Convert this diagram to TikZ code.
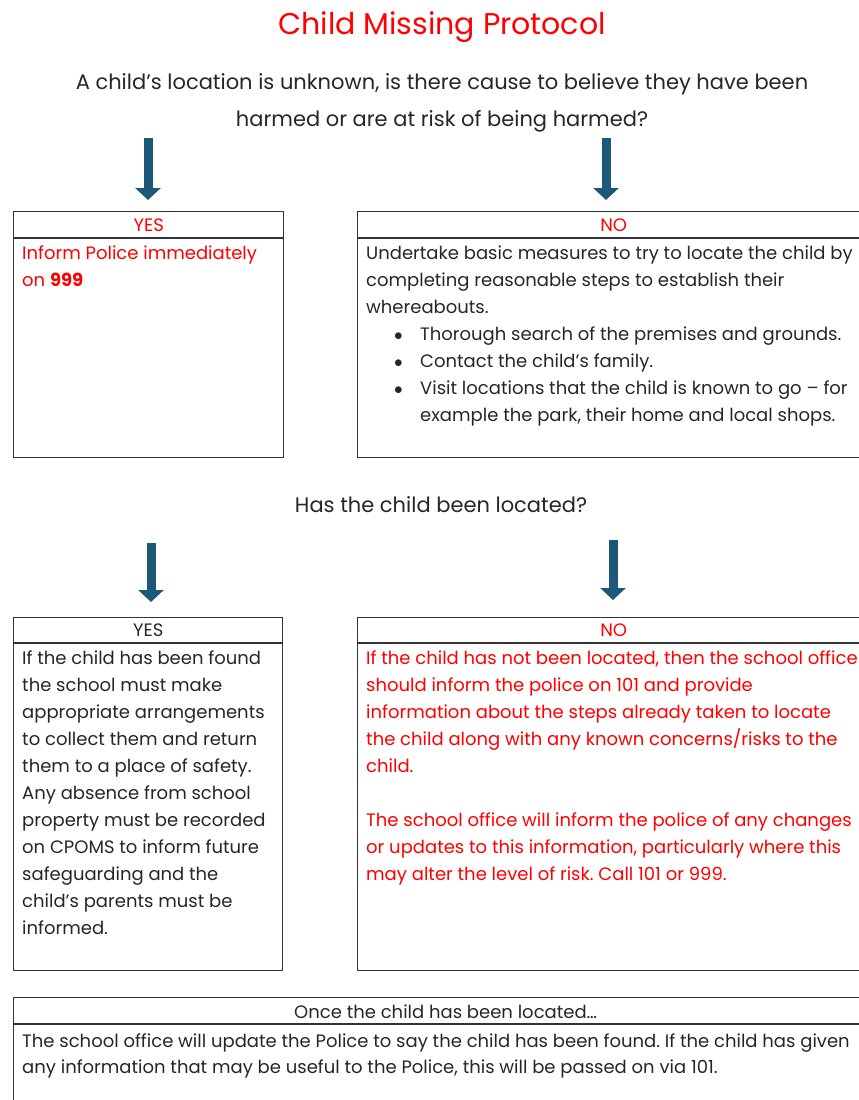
\documentclass[tikz,border=0pt]{standalone}
\usepackage{fontspec}
\setmainfont{Poppins}
\usepackage{tikz}
\usetikzlibrary{arrows.meta}
\frenchspacing

\definecolor{alertred}{HTML}{FF0000}
\definecolor{inktext}{HTML}{262626}
\definecolor{rulegray}{HTML}{333333}
\definecolor{arrowblue}{HTML}{1C5878}

\newcommand{\listdot}{\makebox[26pt][l]{\raisebox{0.3pt}{\fontsize{17}{17}\selectfont$\bullet$}}}

\begin{document}
\begin{tikzpicture}[x = 1pt, y = -1pt, text = inktext,
        font = \fontsize{18}{27}\selectfont,
        box/.style = {draw = rulegray, line width = 1.4pt, anchor = north west, inner sep = 0pt},
        headrule/.style = {draw = rulegray, line width = 1.4pt},
        headtxt/.style = {font = \fontsize{18}{20}\selectfont, inner sep = 0pt},
        bodytxt/.style = {align = left, anchor = north west, inner sep = 0pt},
        downarrow/.style = {draw = arrowblue, line width = 9pt, -{Triangle[width = 25pt, length = 12pt]}}]
        \useasboundingbox (0,0) rectangle (859,1100);
        \clip (0,0) rectangle (859,1100);

        \node [font = \fontsize{30}{34}\selectfont, text = alertred] (title) at (442,27) {Child Missing Protocol};
        \node [font = \fontsize{21}{37}\selectfont, align = center, anchor = north, inner sep = 0pt] (question) at (442,73) {A child’s location is unknown, is there cause to believe they have been\\harmed or are at risk of being harmed?};

        \node [box, minimum width = 270pt, minimum height = 246pt] (yes1) at (13,211) {};
        \node [box, minimum width = 512pt, minimum height = 246pt] (no1) at (357,211) {};
        \draw [headrule] ([yshift = -27pt]yes1.north west) -- ([yshift = -27pt]yes1.north east);
        \draw [headrule] ([yshift = -27pt]no1.north west) -- ([yshift = -27pt]no1.north east);
        \node [headtxt, text = alertred] (yes1head) at ([yshift = -14pt]yes1.north) {YES};
        \node [headtxt, text = alertred] (no1head) at ([yshift = -14pt]no1.north) {NO};

        \node [bodytxt, text = alertred] (yes1body) at (22,245.5) {Inform Police immediately\\on \textbf{999}};
        \node [bodytxt] (no1body) at (366,245.5) {Undertake basic measures to try to locate the child by\\
            completing reasonable steps to establish their\\
            whereabouts.\\
            \hspace*{28pt}\listdot Thorough search of the premises and grounds.\\
            \hspace*{28pt}\listdot Contact the child’s family.\\
            \hspace*{28pt}\listdot Visit locations that the child is known to go – for\\
            \hspace*{54pt}example the park, their home and local shops.};

        \coordinate (a1top) at (148,138);
        \coordinate (a2top) at (606,138);
        \draw [downarrow, shorten > = 11pt] (a1top) -- (a1top |- yes1.north);
        \draw [downarrow, shorten > = 11pt] (a2top) -- (a2top |- no1.north);

        \node (located) at (441,505) {\fontsize{21}{24}\selectfont Has the child been located?};

        \node [box, minimum width = 269pt, minimum height = 353pt] (yes2) at (13,617) {};
        \node [box, minimum width = 512pt, minimum height = 353pt] (no2) at (357,617) {};
        \draw [headrule] ([yshift = -26pt]yes2.north west) -- ([yshift = -26pt]yes2.north east);
        \draw [headrule] ([yshift = -26pt]no2.north west) -- ([yshift = -26pt]no2.north east);
        \node [headtxt] (yes2head) at ([yshift = -13.5pt]yes2.north) {YES};
        \node [headtxt, text = alertred] (no2head) at ([yshift = -13.5pt]no2.north) {NO};

        \node [bodytxt] (yes2body) at (22,650.5) {If the child has been found\\
            the school must make\\
            appropriate arrangements\\
            to collect them and return\\
            them to a place of safety.\\
            Any absence from school\\
            property must be recorded\\
            on CPOMS to inform future\\
            safeguarding and the\\
            child’s parents must be\\
            informed.};
        \node [bodytxt, text = alertred] (no2body) at (366,650.5) {If the child has not been located, then the school office\\
            should inform the police on 101 and provide\\
            information about the steps already taken to locate\\
            the child along with any known concerns/risks to the\\
            child.\\[27pt]
            The school office will inform the police of any changes\\
            or updates to this information, particularly where this\\
            may alter the level of risk. Call 101 or 999.};

        \coordinate (b1top) at (151,543);
        \coordinate (b2top) at (613,540);
        \draw [downarrow, shorten > = 15pt] (b1top) -- (b1top |- yes2.north);
        \draw [downarrow, shorten > = 17pt] (b2top) -- (b2top |- no2.north);

        \node [box, minimum width = 864pt, minimum height = 200pt] (found) at (13,997) {};
        \draw [headrule] ([yshift = -27pt]found.north west) -- ([yshift = -27pt]found.north east);
        \node [headtxt] (foundhead) at ([yshift = -14.5pt]found.north) {Once the child has been located…};
        \node [bodytxt, font = \fontsize{18}{26}\selectfont] (foundbody) at (22,1034) {The school office will update the Police to say the child has been found. If the child has given\\
            any information that may be useful to the Police, this will be passed on via 101.};
    \end{tikzpicture}
\end{document}
